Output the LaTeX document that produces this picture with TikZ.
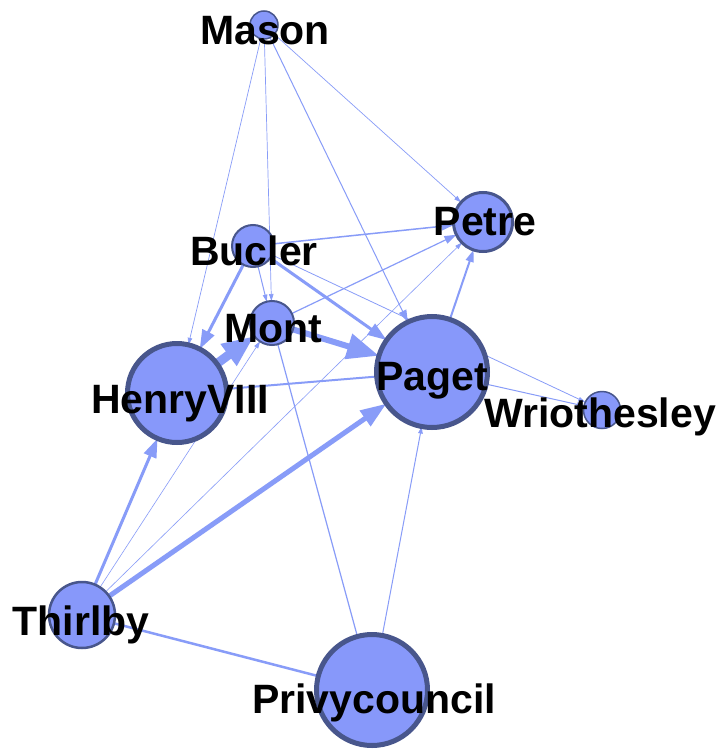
\documentclass[tikz,border=0pt]{standalone}
\usepackage{fontspec}
\setmainfont{Liberation Sans}
\usetikzlibrary{arrows.meta}
\pgfdeclarelayer{bg}
\pgfdeclarelayer{fg}
\pgfsetlayers{bg,main,fg}
\definecolor{nodefill}{RGB}{135,152,250}
\definecolor{nodeline}{RGB}{72,86,140}
\definecolor{edgecol}{RGB}{136,156,248}
\begin{document}
\begin{tikzpicture}[x=1pt,y=-1pt,
  actor/.style={circle,fill=nodefill,draw=nodeline,inner sep=0pt,outer sep=0pt},
  lbl/.style={font=\fontsize{41}{41}\selectfont\bfseries,text=black,anchor=base,inner sep=0pt},
  edge/.style={draw=edgecol,line cap=round},
  tiptiny/.style={-{Triangle[length=7pt,width=4.5pt]}},
  tipsmall/.style={-{Triangle[length=12pt,width=8pt]}},
  tipmed/.style={-{Triangle[length=19pt,width=13pt]}},
  tipthick/.style={-{Triangle[length=26pt,width=18pt]}},
  tipbig/.style={-{Triangle[length=32pt,width=25pt]}},
]
\useasboundingbox (0,0) rectangle (723,749);
% nodes
\node[actor,minimum size=28pt,line width=1.5pt] (Mason) at (264,25) {};
\node[actor,minimum size=59pt,line width=3pt] (Petre) at (483,222) {};
\node[actor,minimum size=42pt,line width=2pt] (Bucler) at (253,246) {};
\node[actor,minimum size=44pt,line width=2pt] (Mont) at (272,323) {};
\node[actor,minimum size=99pt,line width=5pt] (HenryVIII) at (177,393) {};
\node[actor,minimum size=111pt,line width=5pt] (Paget) at (432,372) {};
\node[actor,minimum size=37pt,line width=1.5pt] (Wriothesley) at (602,410) {};
\node[actor,minimum size=66pt,line width=2.5pt] (Thirlby) at (82,615) {};
\node[actor,minimum size=111pt,line width=5pt] (Privycouncil) at (372,690) {};
% edges
\begin{pgfonlayer}{bg}
\fill[white] (0,0) rectangle (723,749);
\draw[edge,tiptiny,line width=0.7pt] (Mason) -- (HenryVIII);
\draw[edge,tiptiny,line width=0.7pt] (Mason) -- (Mont);
\draw[edge,tipsmall,line width=1pt] (Mason) -- (Paget);
\draw[edge,tiptiny,line width=0.7pt] (Mason) -- (Petre);
\draw[edge,tipsmall,line width=1.5pt] (Bucler) -- (Petre);
\draw[edge,tipmed,line width=3pt] (Bucler) -- (HenryVIII);
\draw[edge,tiptiny,line width=1pt] (Bucler) -- (Mont);
\draw[edge,tipmed,line width=3pt] (Bucler) -- (Paget);
\draw[edge,tiptiny,line width=0.8pt] (Bucler) -- (Wriothesley);
\draw[edge,tipbig,line width=9pt] (HenryVIII) -- (Mont);
\draw[edge,tipbig,line width=6pt] (Mont) -- (Paget);
\draw[edge,tipsmall,line width=1.2pt] (Mont) -- (Petre);
\draw[edge,line width=1.2pt] (Mont) -- (Privycouncil);
\draw[edge,line width=2pt] (HenryVIII) -- (Paget);
\draw[edge,tipsmall,line width=2pt] (Paget) -- (Petre);
\draw[edge,tiptiny,line width=1pt] (Paget) -- (Wriothesley);
\draw[edge,tipmed,line width=3pt] (Thirlby) -- (HenryVIII);
\draw[edge,tiptiny,line width=0.6pt] (Thirlby) -- (Mont);
\draw[edge,tiptiny,line width=0.6pt] (Thirlby) -- (Petre);
\draw[edge,tipthick,line width=5pt] (Thirlby) -- (Paget);
\draw[edge,line width=2.5pt] (Thirlby) -- (Privycouncil);
\draw[edge,tiptiny,line width=1pt] (Privycouncil) -- (Paget);
\end{pgfonlayer}
% labels
\begin{pgfonlayer}{fg}
\node[lbl] (lMason) at (265,45) {Mason};
\node[lbl] (lBucler) at (254,265) {Bucler};
\node[lbl] (lMont) at (273,342) {Mont};
\node[lbl] (lHenryVIII) at (180,413) {HenryVIII};
\node[lbl] (lPaget) at (432,390) {Paget};
\node[lbl] (lPetre) at (485,235) {Petre};
\node[lbl] (lWriothesley) at (600,427) {Wriothesley};
\node[lbl] (lThirlby) at (81,635) {Thirlby};
\node[lbl] (lPrivycouncil) at (374,713) {Privycouncil};
\end{pgfonlayer}
\end{tikzpicture}
\end{document}
